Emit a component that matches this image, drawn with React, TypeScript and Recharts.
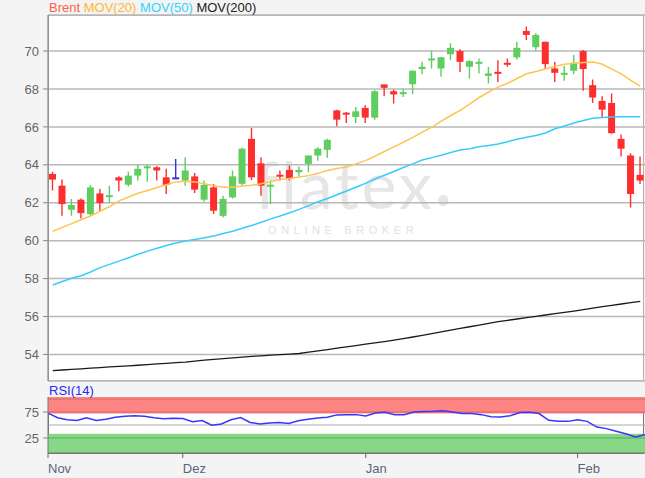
import React from 'react';
import {
  ComposedChart, Bar, Line, XAxis, YAxis, CartesianGrid, ReferenceArea, ReferenceLine,
} from 'recharts';

// daily Brent candles
const opens = [
  63.52, 62.9, 61.63, 62.16, 61.4, 62.49, 62.33, 63.34, 62.95, 63.43, 63.82, 63.87, 63.34, 63.34, 63.17, 63.39,
  62.16, 62.81, 61.31, 62.28, 63.0, 65.37, 64.08, 62.86, 63.48, 63.73, 63.61, 64.05, 64.49, 64.79, 66.87, 66.75,
  66.52, 67.0, 66.49, 68.24, 67.88, 67.79, 68.25, 69.05, 69.56, 69.08, 69.83, 70.0, 69.17, 69.38, 68.69, 68.9,
  69.38, 69.67, 71.06, 70.2, 70.49, 69.08, 68.78, 68.96, 70.0, 68.2, 67.37, 67.26, 65.37, 64.49, 63.47,
];
const highs = [
  63.64, 63.22, 62.2, 62.23, 62.94, 62.73, 62.9, 63.4, 63.64, 64.0, 64.0, 63.92, 63.79, 64.31, 64.4, 63.57,
  63.17, 62.99, 62.37, 63.7, 64.9, 65.94, 64.4, 63.17, 63.7, 63.96, 63.91, 64.49, 64.93, 65.37, 66.91, 66.78,
  67.05, 67.14, 67.93, 68.24, 67.97, 68.02, 68.99, 69.43, 70.01, 69.7, 70.41, 70.09, 69.52, 69.61, 69.17, 69.52,
  69.61, 70.49, 71.29, 70.94, 70.49, 69.43, 69.21, 69.79, 70.05, 68.5, 67.62, 67.76, 65.6, 64.61, 64.44,
];
const lows = [
  62.64, 61.31, 61.31, 61.17, 61.31, 61.52, 61.98, 62.6, 62.86, 63.17, 63.11, 63.17, 62.46, 63.25, 62.9, 62.51,
  62.05, 61.4, 61.22, 62.23, 62.9, 63.2, 62.37, 61.93, 63.17, 63.17, 63.38, 63.61, 64.22, 64.37, 66.04, 66.2,
  66.2, 66.2, 66.38, 67.62, 67.23, 67.58, 67.72, 68.78, 69.08, 68.64, 69.52, 68.9, 68.55, 68.82, 68.29, 68.37,
  69.17, 69.56, 70.58, 70.02, 69.08, 68.37, 68.43, 68.78, 67.9, 67.26, 66.49, 65.64, 64.44, 61.75, 62.99,
];
const closes = [
  63.22, 61.93, 61.88, 61.45, 62.81, 61.98, 62.4, 63.17, 63.43, 63.79, 63.92, 63.7, 62.94, 63.34, 63.7, 62.69,
  62.94, 61.58, 62.2, 63.39, 64.85, 63.34, 62.9, 62.95, 63.38, 63.26, 63.73, 64.49, 64.85, 65.32, 66.38, 66.65,
  66.82, 66.49, 67.88, 68.06, 67.71, 67.83, 68.96, 69.17, 69.61, 69.67, 70.17, 69.43, 69.47, 69.43, 68.82, 68.82,
  69.3, 70.17, 70.85, 70.85, 69.31, 68.85, 68.85, 69.38, 69.05, 67.55, 66.91, 65.67, 64.85, 62.46, 63.17,
];

const mov20 = [
  60.5, 60.7, 60.9, 61.1, 61.3, 61.55, 61.8, 62.1, 62.3, 62.5, 62.65, 62.8, 62.95, 63.1, 63.13, 63.1,
  63.0, 62.9, 62.82, 62.82, 62.88, 62.92, 63.0, 63.12, 63.22, 63.28, 63.36, 63.43, 63.55, 63.7, 63.8, 63.88,
  64.05, 64.22, 64.45, 64.7, 64.95, 65.19, 65.45, 65.72, 65.99, 66.3, 66.6, 66.87, 67.2, 67.55, 67.84, 68.1,
  68.3, 68.55, 68.8, 68.92, 69.05, 69.2, 69.3, 69.36, 69.4, 69.42, 69.3, 69.05, 68.8, 68.45, 68.15,
];
const mov50 = [
  57.66, 57.85, 58.02, 58.15, 58.35, 58.58, 58.75, 58.92, 59.1, 59.28, 59.45, 59.6, 59.75, 59.88, 59.98, 60.06,
  60.15, 60.25, 60.38, 60.5, 60.65, 60.8, 60.97, 61.15, 61.3, 61.47, 61.65, 61.85, 62.05, 62.22, 62.42, 62.62,
  62.82, 63.02, 63.25, 63.45, 63.65, 63.86, 64.05, 64.25, 64.38, 64.5, 64.65, 64.78, 64.85, 64.95, 65.02, 65.1,
  65.22, 65.35, 65.45, 65.55, 65.68, 65.9, 66.05, 66.2, 66.34, 66.45, 66.5, 66.52, 66.53, 66.53, 66.53,
];
const mov200 = [
  53.15, 53.18, 53.21, 53.24, 53.28, 53.31, 53.34, 53.37, 53.4, 53.43, 53.46, 53.5, 53.53, 53.57, 53.6, 53.65,
  53.7, 53.74, 53.78, 53.82, 53.86, 53.9, 53.93, 53.96, 53.99, 54.02, 54.05, 54.12, 54.19, 54.26, 54.33, 54.4,
  54.47, 54.54, 54.61, 54.68, 54.75, 54.83, 54.92, 55.01, 55.1, 55.19, 55.28, 55.37, 55.46, 55.55, 55.64, 55.73,
  55.8, 55.87, 55.94, 56.01, 56.08, 56.15, 56.22, 56.29, 56.36, 56.44, 56.52, 56.59, 56.66, 56.73, 56.8,
];
const rsi14 = [
  73, 64, 60, 58.5, 64, 58.5, 61, 65, 67, 68, 67, 64, 62, 63, 62.5, 56.5,
  58.5, 49.5, 52, 60, 64.5, 55, 52, 54, 55, 53, 58, 61, 63.5, 65, 69.5, 70,
  70, 67.5, 73, 74.5, 70, 70, 75, 76, 76.5, 77.5, 75, 72, 72, 70, 66, 65.5,
  68, 74, 74.5, 72, 59, 57, 57, 60, 57, 46, 43, 38, 33, 27, 31,
];

const monthTicks = [0, 14, 33, 55];
const monthLabels = ['Nov', 'Dez', 'Jan', 'Feb'];
const priceTicks = [54, 56, 58, 60, 62, 64, 66, 68, 70];
const rsiTicks = [25, 75];

const data = opens.map((o, i) => ({
  i,
  open: o,
  high: highs[i],
  low: lows[i],
  close: closes[i],
  range: [lows[i], highs[i]],
  m20: mov20[i],
  m50: mov50[i],
  m200: mov200[i],
  rsi: rsi14[i],
}));

const FONT = '"Liberation Sans", Arial, sans-serif';
const RED = '#ff2e2e';
const GREEN = '#5fcd5f';
const BLUE = '#3a2fd8';

const Candle = (props: any) => {
  const { x, y, width, height, payload } = props;
  if (!payload) return null;
  const { open, close, high, low } = payload;
  const h = Math.abs(height);
  const top = height >= 0 ? y : y + height;
  const k = h / (high - low);
  const cx = x + width / 2;
  const yO = top + (high - open) * k;
  const yC = top + (high - close) * k;
  const color = close > open ? GREEN : close < open ? RED : BLUE;
  const bodyTop = Math.min(yO, yC);
  const bodyH = Math.max(Math.abs(yO - yC), 2);
  return (
    <g>
      <line x1={cx} x2={cx} y1={top} y2={top + h} stroke={color} strokeWidth={1.4} />
      <rect x={x} y={bodyTop} width={width} height={bodyH} fill={color} />
    </g>
  );
};

const MonthTick = (props: any) => {
  const { x, y, payload } = props;
  const k = monthTicks.indexOf(payload.value);
  if (k < 0) return null;
  return (
    <g>
      <line x1={x} x2={x} y1={y} y2={y + 5} stroke="#666" />
      <text x={x} y={y + 20} fill="#56667a" fontSize={13} fontFamily={FONT} textAnchor="start">
        {monthLabels[k]}
      </text>
    </g>
  );
};

export default function App() {
  const yTick = { fill: '#666', fontSize: 13, fontFamily: FONT };
  return (
    <div style={{ position: 'absolute', left: 0, top: 0, width: 645, height: 478, background: '#f4f4f4', overflow: 'hidden', fontFamily: FONT }}>
      {/* plot backgrounds */}
      <div style={{ position: 'absolute', left: 48, top: 15, width: 596, height: 366, boxSizing: 'border-box', background: '#fff', border: '1px solid #b0b0b0' }} />
      <div style={{ position: 'absolute', left: 48, top: 397, width: 596, height: 57, boxSizing: 'border-box', background: '#fff', border: '1px solid #777' }} />

      {/* watermark */}
      <div style={{ position: 'absolute', left: 255, top: 159, fontFamily: 'Lato, sans-serif', fontSize: 66, lineHeight: '50px', color: '#e6e6e6', letterSpacing: 3, whiteSpace: 'nowrap' }}>
        flatex<span style={{ fontSize: 28 }}>•</span>
      </div>
      <div style={{ position: 'absolute', left: 268, top: 224, fontSize: 11, lineHeight: '13px', color: '#e2e2e2', letterSpacing: 4.6, whiteSpace: 'nowrap' }}>
        ONLINE BROKER
      </div>

      <div style={{ position: 'absolute', left: 0, top: 0 }}>
        <ComposedChart width={645} height={382} data={data} margin={{ top: 15, right: 0, bottom: 1, left: 0 }}>
          <CartesianGrid vertical={false} stroke="#b8b8b8" strokeWidth={1.5} />
          <XAxis dataKey="i" type="category" hide />
          <YAxis
            domain={[52.6, 71.9]}
            ticks={priceTicks}
            width={48}
            allowDataOverflow
            tick={yTick}
            tickSize={5}
            tickMargin={4}
            tickLine={{ stroke: '#888' }}
            axisLine={{ stroke: '#777' }}
          />
          <Bar dataKey="range" barSize={7} shape={<Candle />} isAnimationActive={false} />
          <Line dataKey="m200" stroke="#1a1a1a" strokeWidth={1.3} dot={false} isAnimationActive={false} />
          <Line dataKey="m50" stroke="#38cdf9" strokeWidth={1.5} dot={false} isAnimationActive={false} />
          <Line dataKey="m20" stroke="#ffc44f" strokeWidth={1.5} dot={false} isAnimationActive={false} />
        </ComposedChart>
      </div>

      <div style={{ position: 'absolute', left: 0, top: 380 }}>
        <ComposedChart width={645} height={98} data={data} margin={{ top: 17, right: 0, bottom: 0, left: 0 }}>
          <XAxis
            dataKey="i"
            type="category"
            interval={0}
            height={25}
            tick={<MonthTick />}
            tickLine={false}
            tickSize={0}
            tickMargin={0}
            axisLine={{ stroke: '#777' }}
          />
          <YAxis
            domain={[-4, 104]}
            ticks={rsiTicks}
            width={48}
            tick={yTick}
            tickSize={5}
            tickMargin={4}
            tickLine={{ stroke: '#888' }}
            axisLine={{ stroke: '#777' }}
          />
          <ReferenceArea y1={72} y2={104} fill="#ff8585" fillOpacity={1} stroke="none" />
          <ReferenceArea y1={-4} y2={33} fill="#86d886" fillOpacity={1} stroke="none" />
          <ReferenceLine y={100} stroke="#d86a6a" />
          <ReferenceLine y={75} stroke="#cf6767" />
          <ReferenceLine y={50} stroke="#aaa" />
          <ReferenceLine y={25} stroke="#5ea85e" />
          <Line dataKey="rsi" stroke="#3636ff" strokeWidth={1.5} dot={false} isAnimationActive={false} />
        </ComposedChart>
      </div>

      {/* legends */}
      <div style={{ position: 'absolute', left: 49, top: 0, fontSize: 13, lineHeight: '16px', whiteSpace: 'nowrap' }}>
        <span style={{ color: '#f9634a' }}>Brent</span>{' '}
        <span style={{ color: '#ffb732' }}>MOV(20)</span>{' '}
        <span style={{ color: '#33d2ff' }}>MOV(50)</span>{' '}
        <span style={{ color: '#222' }}>MOV(200)</span>
      </div>
      <div style={{ position: 'absolute', left: 49, top: 383, fontSize: 13, lineHeight: '16px', color: '#2626ff' }}>
        RSI(14)
      </div>
    </div>
  );
}
